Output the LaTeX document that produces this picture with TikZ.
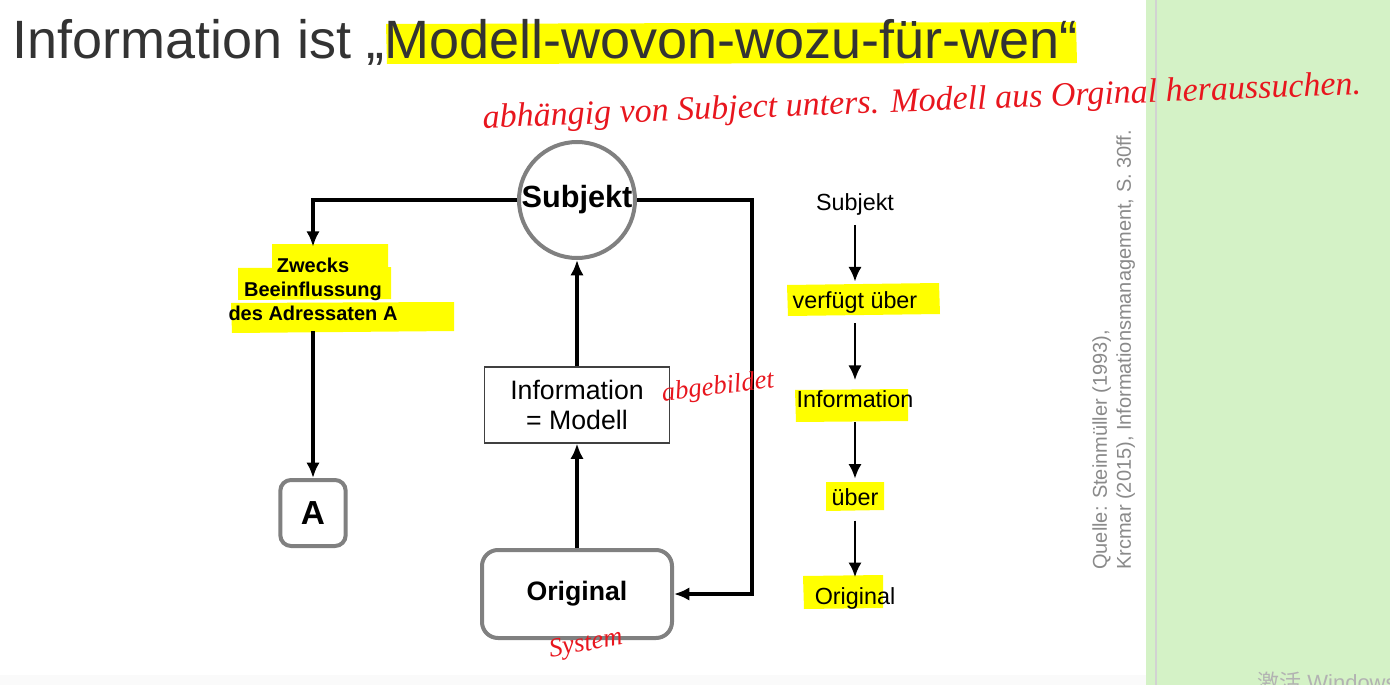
\documentclass[tikz,border=0pt]{standalone}
\usepackage{fontspec}
\setmainfont{Liberation Sans}
\newfontfamily\handfont{Liberation Serif}
\newfontfamily\cjkfont{Noto Sans CJK SC}
\usepackage{xcolor}
\usetikzlibrary{arrows.meta, positioning}
\definecolor{marker}{HTML}{FFFF00}
\definecolor{boxgray}{HTML}{808080}
\definecolor{titlegray}{HTML}{333333}
\definecolor{pen}{HTML}{E8161E}
\definecolor{panel}{HTML}{D4F2C6}
\definecolor{citegray}{HTML}{8A8A8A}

\begin{document}
\begin{tikzpicture}[x=0.75pt, y=-0.75pt,
  roundbox/.style={draw=boxgray, line width=3pt, rounded corners=8pt, align=center},
  edge/.style={-{Latex[length=11.5pt, width=10pt]}, line width=2.3pt},
  chain/.style={-{Latex[length=11pt, width=10pt]}, line width=2pt},
  word/.style={font=\fontsize{17.5}{21}\selectfont, inner xsep=0pt, inner ysep=7pt, text height=13pt, text depth=4pt},
  hl/.style={fill=marker},
  hand/.style={text=pen}
]
\useasboundingbox (0,0) rectangle (1390,685);
\clip (0,0) rectangle (1390,685);
% slide and side panel
\fill[white] (0,0) rectangle (1146,685);
\fill[black!2] (0,675) rectangle (1146,685);
\fill[panel] (1146,0) rectangle (1390,685);
\draw[gray!35, line width=1.2pt] (1156,0) -- (1156,685);

% marker strokes
\fill[hl] (386,24) -- (1076,22) -- (1077,63) -- (387,64) -- cycle;
\fill[hl] (272,244) -- (388,244) -- (388,272) -- (272,273) -- cycle;
\fill[hl] (238,268) -- (391,267) -- (391,299) -- (238,300) -- cycle;
\fill[hl] (231,303) -- (454,302) -- (454,331) -- (232,333) -- cycle;
\fill[hl] (787,285) -- (939,283) -- (940,314) -- (788,316) -- cycle;
\fill[hl] (795,390) -- (908,389) -- (908,421) -- (796,422) -- cycle;
\fill[hl] (826,482) -- (884,482) -- (884,510) -- (826,511) -- cycle;
\fill[hl] (803,576) -- (883,575) -- (883,608) -- (804,609) -- cycle;

% title
\node[anchor=base west, text=titlegray, font=\fontsize{40.5}{48}\selectfont, inner sep=0pt] (title) at (12,59) {Information ist „Modell-wovon-wozu-für-wen“};

% main diagram
\node[circle, draw=boxgray, line width=3pt, minimum size=87pt, inner sep=0pt, font=\bfseries\fontsize{23}{28}\selectfont] (subj) at (577,200) {Subjekt};
\node[font=\bfseries\fontsize{15}{18}\selectfont, align=center, inner ysep=8pt] (zweck) at (313,289) {Zwecks\\Beeinflussung\\des Adressaten A};
\node[roundbox, minimum width=49pt, minimum height=49.5pt, font=\bfseries\fontsize{25}{30}\selectfont] (abox) at (313,513) {A};
\node[draw=black!75, line width=0.8pt, minimum width=139pt, minimum height=57pt, align=center, font=\fontsize{20}{22.5}\selectfont] (info) at (577,405) {Information\\= Modell};
\node[roundbox, minimum width=142.5pt, minimum height=66pt, rounded corners=12pt, font=\bfseries\fontsize{20}{24}\selectfont] (orig) at (577,594) {Original};
\coordinate (turn) at (752,200);

\draw[edge] (subj.west) -| (zweck.north);
\draw[edge] (zweck.south) -- (abox.north);
\draw[edge] (info.north) -- (subj.south);
\draw[edge] (orig.north) -- (info.south);
\draw[edge] (subj.east) -- (turn) |- (orig.east);

% reading chain
\node[word] (s1) at (855,204) {Subjekt};
\node[word, below=42.5pt of s1] (s2) {verfügt über};
\node[word, below=42.5pt of s2] (s3) {Information};
\node[word, below=42.5pt of s3] (s4) {über};
\node[word, below=42.5pt of s4] (s5) {Original};
\draw[chain] (s1) -- (s2);
\draw[chain] (s2) -- (s3);
\draw[chain] (s3) -- (s4);
\draw[chain] (s4) -- (s5);

% source
\node[rotate=90, anchor=north west, align=left, inner sep=0pt, text=citegray, font=\fontsize{15}{18}\selectfont] (source) at (1092,570) {Quelle: Steinmüller (1993),\\Krcmar (2015), Informationsmanagement, S. 30ff.};

% handwritten notes
\node[hand, font=\handfont\itshape\fontsize{25.5}{30}\selectfont, rotate=2.2] (note1) at (922,103) {abhängig von Subject unters. Modell aus Orginal heraussuchen.};
\node[hand, font=\handfont\itshape\fontsize{20}{24}\selectfont, rotate=7] (note2) at (718,388) {abgebildet};
\node[hand, font=\handfont\itshape\fontsize{20}{24}\selectfont, rotate=10] (note3) at (586,645) {System};

% watermark
\node[anchor=base west, text=black!30, font=\fontsize{16.5}{20}\selectfont, inner sep=0pt] (wm) at (1257,690) {{\cjkfont 激活} Windows};
\end{tikzpicture}
\end{document}
